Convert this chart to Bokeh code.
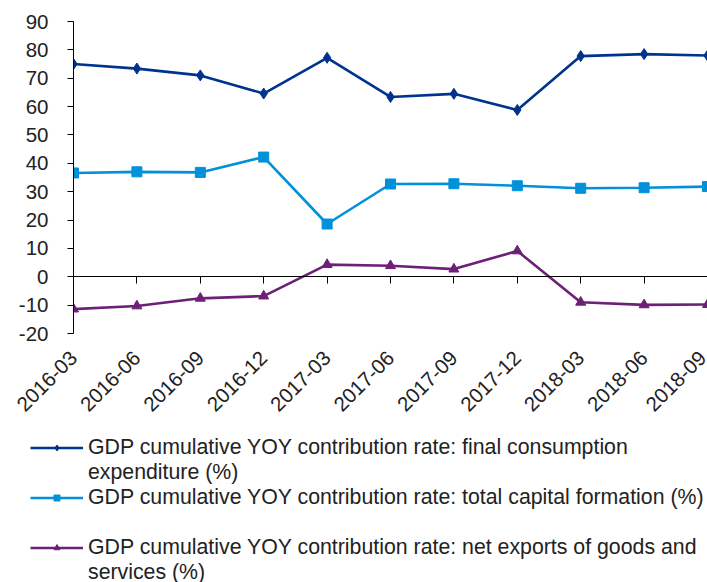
import math
from bokeh.plotting import figure
from bokeh.models import Range1d, LinearAxis, FixedTicker, Legend, LegendItem
from bokeh.embed import file_html
from bokeh.resources import INLINE

dates = ["2016-03", "2016-06", "2016-09", "2016-12", "2017-03", "2017-06",
         "2017-09", "2017-12", "2018-03", "2018-06", "2018-09"]
final_consumption = [75.0, 73.4, 71.0, 64.6, 77.2, 63.4, 64.5, 58.8, 77.8, 78.5, 78.0]
capital_formation = [36.6, 37.0, 36.8, 42.2, 18.6, 32.7, 32.8, 32.1, 31.2, 31.4, 31.8]
net_exports = [-11.4, -10.3, -7.6, -6.8, 4.3, 3.9, 2.7, 9.1, -9.0, -9.9, -9.8]
y_ticks = [-20, -10, 0, 10, 20, 30, 40, 50, 60, 70, 80, 90]

# legend labels, wrapped as in the reference (first line, continuation line)
label_lines = [
    ["GDP cumulative YOY contribution rate: final consumption", "expenditure (%)"],
    ["GDP cumulative YOY contribution rate: total capital formation (%)", " "],
    ["GDP cumulative YOY contribution rate: net exports of goods and", "services (%)"],
]
colors = ["#00338D", "#0091DA", "#6D2077"]
markers = ["diamond", "square", "triangle"]
msizes = [11, 10, 10]

x = list(range(len(dates)))
FONT = "Liberation Sans"
TXT = "#222222"

p = figure(width=707, height=430, x_range=Range1d(0, 10), y_range=Range1d(-20, 90),
           output_backend="svg", toolbar_location=None,
           min_border_left=73, min_border_right=0, min_border_top=21, min_border_bottom=97)
p.outline_line_color = None
p.grid.visible = False
p.background_fill_color = "white"

# y axis
p.yaxis.ticker = FixedTicker(ticks=y_ticks)
p.yaxis.major_label_overrides = {t: str(t) for t in y_ticks}
p.yaxis.axis_line_color = "black"
p.yaxis.major_tick_line_color = "black"
p.yaxis.major_tick_out = 6
p.yaxis.major_tick_in = 0
p.yaxis.minor_tick_line_color = None
p.yaxis.major_label_standoff = 19
p.yaxis.major_label_text_font = FONT
p.yaxis.major_label_text_font_size = "20.5px"
p.yaxis.major_label_text_color = TXT

# x axis (labels only)
p.xaxis.ticker = FixedTicker(ticks=x)
p.xaxis.major_label_overrides = {i: d for i, d in enumerate(dates)}
p.xaxis.major_label_orientation = math.pi / 4
p.xaxis.axis_line_color = None
p.xaxis.major_tick_line_color = None
p.xaxis.minor_tick_line_color = None
p.xaxis.major_tick_out = 0
p.xaxis.major_tick_in = 0
p.xaxis.major_label_standoff = 21
p.xaxis.major_label_text_font = FONT
p.xaxis.major_label_text_font_size = "20.5px"
p.xaxis.major_label_text_color = TXT

# zero axis line with ticks
zax = LinearAxis(fixed_location=0, ticker=FixedTicker(ticks=x),
                 major_tick_in=0, major_tick_out=7, major_label_standoff=0,
                 major_label_text_font_size="1px", major_label_text_color=None,
                 minor_tick_line_color=None,
                 axis_line_color="black", major_tick_line_color="black")
p.add_layout(zax, "below")

series = [final_consumption, capital_formation, net_exports]
for vals, c, m, s in zip(series, colors, markers, msizes):
    p.line(x, vals, line_color=c, line_width=2.6)
    p.scatter(x, vals, marker=m, size=s, fill_color=c, line_color=c)

# legend panel (its own plot; series drawn off-view, only the legend shows)
p2 = figure(width=707, height=152, output_backend="svg", toolbar_location=None,
            x_range=Range1d(-100, -90), y_range=Range1d(-1000, -900),
            x_axis_location=None, y_axis_location=None,
            min_border_left=0, min_border_right=0, min_border_top=0, min_border_bottom=0)
p2.outline_line_color = None
p2.grid.visible = False
items = []
for vals, c, m, s, lines in zip(series, colors, markers, msizes, label_lines):
    r1 = p2.line(x, vals, line_color=c, line_width=2.6)
    r2 = p2.scatter(x, vals, marker=m, size=s, fill_color=c, line_color=c)
    items.append(LegendItem(label=lines[0], renderers=[r1, r2]))
    r_blank = p2.line(x, vals, line_alpha=0)
    items.append(LegendItem(label=lines[1], renderers=[r_blank]))

legend = Legend(items=items, location=(30, -3), orientation="vertical",
                label_text_font=FONT, label_text_font_size="21.3px",
                label_text_color=TXT, label_standoff=5, label_height=25,
                glyph_width=53, glyph_height=15, spacing=0, padding=0, margin=0,
                border_line_color=None, background_fill_alpha=0)
p2.add_layout(legend, "center")

open("out.html", "w").write(file_html([p, p2], INLINE))
